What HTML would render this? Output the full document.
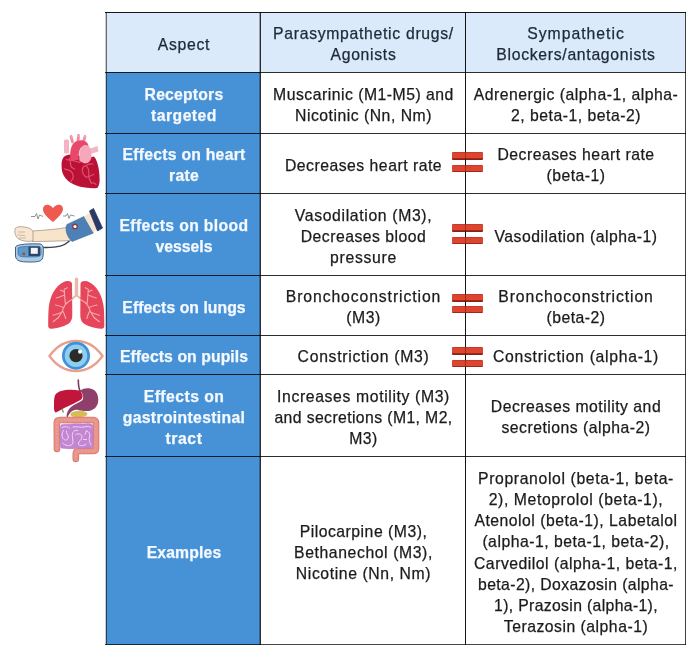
<!DOCTYPE html>
<html><head><meta charset="utf-8">
<style>
html,body{margin:0;padding:0;background:#fff;}
body{width:696px;height:658px;position:relative;overflow:hidden;font-family:"Liberation Sans",sans-serif;}
.c{will-change:transform;position:absolute;display:flex;align-items:center;justify-content:center;text-align:center;font-size:15.75px;line-height:21px;letter-spacing:0.5px;padding-top:4px;padding-left:2px;white-space:nowrap;color:#1b1b1b;-webkit-text-stroke:0.25px currentColor;box-sizing:border-box;}
.h{background:#dbeafb;color:#1e2935;letter-spacing:0.7px;}
.l{background:#4792d6;color:#f4f8ff;font-weight:bold;letter-spacing:0.15px;}
.hl{position:absolute;height:1px;background:rgba(0,0,0,.82);left:105px;width:581px;}
.vl{position:absolute;width:1px;background:rgba(0,0,0,.82);top:12px;height:633px;}
.eq{position:absolute;left:452px;width:31px;height:8px;background:linear-gradient(#b9372a 0px,#dc4430 1.5px,#df4631 5.5px,#a0281a 6.5px,#7e1d12 8px);border-radius:1px;}
.eqv{position:absolute;left:465px;width:1px;background:rgba(0,0,0,.3);}
</style></head><body>
<!-- column 1 (left labels) -->
<div class="c h" style="left:106px;top:12px;width:154px;height:60px;"><div>Aspect</div></div>
<div class="c l" style="left:106px;top:72px;width:154px;height:61px;"><div><span style="letter-spacing:0.2px">Receptors</span><br><span style="letter-spacing:0.45px">targeted</span></div></div>
<div class="c l" style="left:106px;top:133px;width:154px;height:60px;"><div><span style="letter-spacing:0.25px">Effects on heart</span><br><span style="letter-spacing:0.3px">rate</span></div></div>
<div class="c l" style="left:106px;top:193px;width:154px;height:82px;"><div><span style="letter-spacing:0.35px">Effects on blood</span><br><span style="letter-spacing:0px">vessels</span></div></div>
<div class="c l" style="left:106px;top:275px;width:154px;height:60px;"><div><span style="letter-spacing:0.05px">Effects on lungs</span></div></div>
<div class="c l" style="left:106px;top:335px;width:154px;height:39px;"><div><span style="letter-spacing:0.08px">Effects on pupils</span></div></div>
<div class="c l" style="left:106px;top:374px;width:154px;height:82px;"><div><span style="letter-spacing:0.45px">Effects on</span><br><span style="letter-spacing:0.33px">gastrointestinal</span><br><span style="letter-spacing:0.6px">tract</span></div></div>
<div class="c l" style="left:106px;top:456px;width:154px;height:189px;"><div>Examples</div></div>
<!-- column 2 -->
<div class="c h" style="left:260px;top:12px;width:205px;height:60px;"><div>Parasympathetic drugs/<br>Agonists</div></div>
<div class="c" style="left:260px;top:72px;width:205px;height:61px;"><div>Muscarinic (M1-M5) and<br>Nicotinic (Nn, Nm)</div></div>
<div class="c" style="left:260px;top:133px;width:205px;height:60px;"><div>Decreases heart rate</div></div>
<div class="c" style="left:260px;top:193px;width:205px;height:82px;"><div><span style="letter-spacing:0.65px">Vasodilation (M3),</span><br>Decreases blood<br><span style="letter-spacing:0.7px">pressure</span></div></div>
<div class="c" style="left:260px;top:275px;width:205px;height:60px;"><div><span style="letter-spacing:0.9px">Bronchoconstriction</span><br>(M3)</div></div>
<div class="c" style="left:260px;top:335px;width:205px;height:39px;"><div><span style="letter-spacing:0.7px">Constriction (M3)</span></div></div>
<div class="c" style="left:260px;top:374px;width:205px;height:82px;"><div><span style="letter-spacing:0.63px">Increases motility (M3)</span><br><span style="letter-spacing:0.4px">and secretions (M1, M2,</span><br>M3)</div></div>
<div class="c" style="left:260px;top:456px;width:205px;height:188px;"><div>Pilocarpine (M3),<br><span style="letter-spacing:0.6px">Bethanechol (M3),</span><br><span style="letter-spacing:0.6px">Nicotine (Nn, Nm)</span></div></div>
<!-- column 3 -->
<div class="c h" style="left:465px;top:12px;width:220px;height:60px;"><div><span style="letter-spacing:1px">Sympathetic</span><br>Blockers/antagonists</div></div>
<div class="c" style="left:465px;top:72px;width:220px;height:61px;"><div>Adrenergic (alpha-1, alpha-<br>2, beta-1, beta-2)</div></div>
<div class="c" style="left:465px;top:133px;width:220px;height:60px;"><div>Decreases heart rate<br>(beta-1)</div></div>
<div class="c" style="left:465px;top:193px;width:220px;height:82px;"><div><span style="letter-spacing:0.5px">Vasodilation (alpha-1)</span></div></div>
<div class="c" style="left:465px;top:275px;width:220px;height:60px;"><div><span style="letter-spacing:0.9px">Bronchoconstriction</span><br>(beta-2)</div></div>
<div class="c" style="left:465px;top:335px;width:220px;height:39px;"><div><span style="letter-spacing:0.7px">Constriction (alpha-1)</span></div></div>
<div class="c" style="left:465px;top:374px;width:220px;height:82px;"><div>Decreases motility and<br>secretions (alpha-2)</div></div>
<div class="c" style="left:465px;top:456px;width:220px;height:188px;line-height:21.25px;padding-top:5px;"><div><span style="letter-spacing:0.63px">Propranolol (beta-1, beta-</span><br><span style="letter-spacing:0.6px">2), Metoprolol (beta-1),</span><br>Atenolol (beta-1), Labetalol<br>(alpha-1, beta-1, beta-2),<br>Carvedilol (alpha-1, beta-1,<br><span style="letter-spacing:0.4px">beta-2), Doxazosin (alpha-</span><br><span style="letter-spacing:0.35px">1), Prazosin (alpha-1),</span><br>Terazosin (alpha-1)</div></div>
<!-- grid lines -->
<div class="hl" style="top:12px;background:rgba(0,0,0,.9)"></div>
<div class="hl" style="top:72px"></div>
<div class="hl" style="top:133px"></div>
<div class="hl" style="top:193px"></div>
<div class="hl" style="top:275px"></div>
<div class="hl" style="top:335px"></div>
<div class="hl" style="top:374px"></div>
<div class="hl" style="top:456px"></div>
<div class="hl" style="top:644px;background:rgba(0,0,0,.72)"></div>
<div class="vl" style="left:105px;background:rgba(0,0,0,.2)"></div>
<div class="vl" style="left:106px;background:rgba(0,0,0,.55)"></div>
<div class="vl" style="left:259px;background:rgba(0,0,0,.3)"></div>
<div class="vl" style="left:260px"></div>
<div class="vl" style="left:465px;background:rgba(0,0,0,.92)"></div>
<div class="vl" style="left:685px;background:rgba(0,0,0,.75)"></div>
<!-- ICONS -->
<svg style="position:absolute;left:0;top:0" width="696" height="658" viewBox="0 0 696 658">
<!-- HEART -->
<g>
<rect x="64" y="139.5" width="5" height="14" rx="1.5" fill="#f4b3c2"/>
<path d="M72.5,142 L71,136.5 M78,141 L78.5,135.5 M83.5,142 L85,136.5" stroke="#f0899f" stroke-width="2.8" stroke-linecap="round"/>
<path d="M71,137 L73,137 M77.5,136 L79.5,136 M84,137 L86,137" stroke="#f6b8c6" stroke-width="1" stroke-linecap="round"/>
<path d="M63.7,157 C61.5,160 61.5,163 61.6,166 C61.6,170 62.3,173 63.7,175.5 C66,179.5 70,183 74,184.5 C78,186.3 82.5,187.3 86.7,187.8 C90.5,188.2 94.5,188.5 97.6,187.7 C99.3,185 99.8,182 99.6,178.7 C99.5,173 98.8,168 97.6,164 C96.8,160.5 95.5,158 93.8,156.4 L88,158 L80,156 L70.8,154.5 C67.5,154.8 65.3,155.5 63.7,157 Z" fill="#ba1236"/>
<path d="M70.5,160 C69.5,151 71,143 77,141 C83,139 88,141.5 88.5,146 L83,147 C80,147 78.5,151 78.5,160 Z" fill="#e8496a"/>
<path d="M89,149 L97.5,146 L98.5,151.5 L90,154 Z" fill="#f6b4c4"/>
<path d="M79.5,161 C78.5,152 80,146 85,145 C90,144.5 91.5,150 91.5,156 C91.5,160 89,163.5 84.5,163.5 Z" fill="#f5a7bb"/>
<path d="M66.3,159.6 C72,160 76,161 80,162.5 M69.5,158.3 C70.5,161 70.5,164 70.8,166 C71.5,168 73.5,168.5 74.6,169 M64.4,169 C66.5,169.5 69,170 70.8,171 C72.5,172.5 73,175 73.3,176.8 C73,179 71.5,180.5 70.8,182 M82.3,171 C82,167.5 84,165.5 86,166 C88.5,167 89.5,172 88.6,176.8 C86.5,178 83,176 82.3,171 Z M88.6,176.8 C89.5,179 90.5,181 91.2,183.2 M88.6,176.8 C90.5,176 92,175.3 93.8,174.3 M91.2,183.2 C93,182.5 95,183 96,184.5 M86,166 C87.5,164 90,163.5 93,164" stroke="#e2506c" stroke-width="1.2" fill="none" stroke-linecap="round"/>
</g>
<!-- BLOOD PRESSURE -->
<g>
<path d="M53,222 C47,217 42.5,213 43,208.5 C43.5,204.5 48,203.5 51.5,206.5 L53,208 L54.5,206.5 C58,203.5 63,204.5 63,209 C63,213 58.5,217 53,222 Z" fill="#ef5a50"/>
<path d="M31,216.5 L35,216.5 L36.5,213.5 L38,219 L39.5,215 L43,216.5 M63,216 L66,216 L67.5,213.5 L69,218.5 L70.5,215 L74.5,216" stroke="#7a7a7a" stroke-width="0.8" fill="none"/>
<path d="M33,231 C45,230 58,229.5 69,227 L73,240.5 C60,241 45,241.5 32,241.5 Z" fill="#f8e3cb"/>
<path d="M33,231 C45,230 58,229.5 69,227 M73,240.5 C60,241 45,241.5 32,241.5" stroke="#8a7a6a" stroke-width="0.6" fill="none"/>
<path d="M15.5,228 C18,226 25,226.5 30,228.5 L33,231 L33,241 C28,242 22,241 18.5,239 C15,236 14,231 15.5,228 Z" fill="#f8e6d0" stroke="#9a8a7a" stroke-width="0.7"/>
<path d="M18,232 L25,232 M17.5,235 L25,235.5 M19,238 L26,238" stroke="#9a8a7a" stroke-width="0.5"/>
<path d="M69.5,241 C64,246 58,247.5 46,247.5 L42,247.5" stroke="#3b4250" stroke-width="1.4" fill="none"/>
<path d="M67,224.5 L84,216.5 L93.5,233 L72,241.5 C69,239 67,235 66.2,231 C65.8,228 66,226 67,224.5 Z" fill="#4d80b6" stroke="#3a6898" stroke-width="0.6"/>
<path d="M84,216.5 L90.5,212 L96.5,229 L93.5,233 Z" fill="#f8e5cf"/>
<path d="M89.5,211 L93.5,208.5 L102.5,228 L97.5,231 Z" fill="#2a3a68" stroke="#2a3a68" stroke-width="0.8" stroke-linejoin="round"/>
<circle cx="75" cy="226.5" r="2.9" fill="#8a3a48"/>
<circle cx="75" cy="226.5" r="1.6" fill="#fff"/>
<path d="M15.5,247 C17,244 30,243.5 40,244 C43,244.5 44,247 43,256 C42.5,261 40,262 30,262 C20,262 16,261 15.5,256 Z" fill="#a9cbe5" stroke="#3f5f80" stroke-width="1"/>
<path d="M18,248 C19,246.5 28,246 39,246.5 C41,247 41.5,249 41,254 C40.5,256.5 39,257 30,257 C21,257 18.5,256.5 18,254 Z" fill="#5c9bcc" stroke="#3d5f86" stroke-width="0.6"/>
<rect x="28.5" y="246.5" width="11.5" height="9.5" rx="0.8" fill="#2c4468"/>
<rect x="30.8" y="247.8" width="7" height="6" fill="#f2f5f8"/>
<rect x="22.5" y="252.5" width="2.6" height="2.6" fill="#a8473a"/>
</g>
<!-- LUNGS -->
<g>
<rect x="74.8" y="277.5" width="3.4" height="19" rx="1.5" fill="#e9b8a8"/>
<path d="M76.5,295 L72,299 M76.5,295 L81,299" stroke="#e9b8a8" stroke-width="2"/>
<path d="M67.6,281 C70.5,281 72,282 72,284 L72.3,313.5 C72.5,318 71.5,321 69.5,323 C66,326 58,328 51.5,328.8 C49,329 48,327.5 48.2,325 C48.2,318 48.3,312 48.8,307 C50,298 53,291 58,286 C61,283 64.5,281 67.6,281 Z" fill="#e6465c"/>
<path d="M85,281 C82,281 80.5,282 80.5,284 L80.3,313.5 C80.1,318 81,321 83,323 C86.5,326 94.5,328 101,328.8 C103.5,329 104.5,327.5 104.3,325 C104.3,318 104.2,312 103.7,307 C102.5,298 99.5,291 94.5,286 C91.5,283 88,281 85,281 Z" fill="#e6465c"/>
<path d="M72,299.5 C69,301 66.5,303 65,305 C63.5,308 62.5,310 61.8,312.2 C60.5,314.5 59,316.5 57.8,318.5 M65.5,304.5 C64.8,299 64.5,294 64.2,289.3 L67.3,287.7 M64.5,295 C61,296.5 58.5,297.5 56.3,298 M63.5,307.5 C60.5,306 58,305.5 55.5,305 M61.8,312.2 C58.5,313.5 55.5,314.5 53.1,315.3 M58.5,317.5 C56.5,319 54.8,320.5 53.1,321.7 M62.5,310.5 C64,313 65,316 65.7,318.5 M64.3,292 L60.5,290" stroke="#f5a8ac" stroke-width="1.15" fill="none" stroke-linecap="round"/>
<path d="M80.5,299.5 C83.5,301 86.0,303 87.5,305 C89.0,308 90.0,310 90.7,312.2 C92.0,314.5 93.5,316.5 94.7,318.5 M87.0,304.5 C87.7,299 88.0,294 88.3,289.3 L85.2,287.7 M88.0,295 C91.5,296.5 94.0,297.5 96.2,298 M89.0,307.5 C92.0,306 94.5,305.5 97.0,305 M90.7,312.2 C94.0,313.5 97.0,314.5 99.4,315.3 M94.0,317.5 C96.0,319 97.7,320.5 99.4,321.7 M90.0,310.5 C88.5,313 87.5,316 86.8,318.5 M88.2,292 L92.0,290" stroke="#f5a8ac" stroke-width="1.15" fill="none" stroke-linecap="round"/>
</g>
<!-- EYE -->
<g>
<path d="M49.5,356 C58,344 67,341 76,341 C85,341 94,344 102.5,356 C94,368 85,371 76,371 C67,371 58,368 49.5,356 Z" fill="#fff" stroke="#e8a090" stroke-width="2.3"/>
<circle cx="76" cy="355.7" r="14" fill="#3f90d6"/>
<circle cx="76" cy="355.7" r="11.3" fill="#8ccff0"/>
<circle cx="76" cy="355.7" r="6.6" fill="#2d2b2a"/>
<circle cx="80" cy="351.8" r="2" fill="#fff"/>
</g>
<!-- GI TRACT -->
<g>
<path d="M78.3,380 C78.3,385 78.8,389 80.5,392" stroke="#7d3a62" stroke-width="1.6" fill="none" stroke-linecap="round"/>
<path d="M54.5,397 C55.5,393 59,391 65.5,390 C70,389.5 75,389.5 79,390.5 C81,391.5 82.5,394 82.6,396 C82.5,398 81.5,399.5 79.5,400.5 C76,402.5 72,404.5 67.5,406.5 C63,408.5 59,411 55.8,412.5 C54.2,412 53.8,409 54,405 C54,402 54,399.5 54.5,397 Z" fill="#c0163c"/>
<path d="M62,409 L63.5,412.5" stroke="#7a9a4a" stroke-width="1.3"/>
<path d="M80.5,390.5 C84,387.5 90,387.5 94,390 C97.5,392.5 98.5,397 98.2,401 C97.8,406 95,409 91,410.5 C87,411.5 82,411 78,410 C75,409.5 72.5,410.5 70.5,412.5 C69,414 68,416 67.8,417.5 L66.5,416.5 C66.5,413 68,409.5 71,407 C74.5,404 79,402.5 82,400.5 C83.5,399 83.5,396 82.5,394 C81.8,392.8 81,391.5 80.5,390.5 Z" fill="#8e3f6c"/>
<path d="M70.5,413.5 C73,410.8 79,410.3 84,411.3 C86.5,412 88,413.5 87.2,415 C85,417.3 78,417.5 73,416.8 C71,416.4 70,415 70.5,413.5 Z" fill="#d7be52"/>
<path d="M57,449 L56.8,423 C56.8,421 58,420 60,420 L93,420 C95,420 96,421 96,423.5 L96,448.5 C96,450.5 95,451 93,451 L79,451 C77,451 75.8,452 75.8,454 L75.8,459" stroke="#d9736a" stroke-width="6.6" fill="none" stroke-linecap="round" stroke-linejoin="round"/>
<path d="M57,449 L56.8,423 C56.8,421 58,420 60,420 L93,420 C95,420 96,421 96,423.5 L96,448.5 C96,450.5 95,451 93,451 L79,451 C77,451 75.8,452 75.8,454 L75.8,459" stroke="#e8948a" stroke-width="5" fill="none" stroke-linecap="round" stroke-linejoin="round"/>
<path d="M57,449 L56.8,423 C56.8,421 58,420 60,420 L93,420 C95,420 96,421 96,423.5 L96,448.5 C96,450.5 95,451 93,451 L79,451 C77,451 75.8,452 75.8,454 L75.8,459" stroke="#f2b0a6" stroke-width="0.8" stroke-dasharray="1.5 2" fill="none"/>
<path d="M61,425 C64,423.5 68,424.5 72,424 C77,423.5 82,424.5 87,423.8 C89.5,423.6 91.5,424 92.5,425 C93.3,432 93.3,440 92.5,447.5 C89,448.5 85,448 81,448.3 C78.5,448.5 77,447 75,448.5 C72,449 67,448.5 61,448 C59.5,440 59.5,432 61,425 Z" fill="#c386d3" stroke="#b474c6" stroke-width="0.6"/>
<path d="M62,427.5 C65,426 68,426.5 70,428.5 M63.5,430.5 C61.5,433.5 61.5,437 63.5,439 C65.5,441 68.3,440 68.3,437 C68.3,434 65.5,433 66.5,431 M62.5,443 C65,445.5 69.5,446.5 72,444.5 C74,442 72.3,438.5 72.3,435.5 C72.3,431.5 75,429.5 78,430.5 M75.8,434.5 C79,433 82,434 82,437 C82,440 78.3,441 78.3,444 C79,446 83.5,446.3 86,444.3 M73,427 C77,426 80.5,428 84,427 C87,426 89.5,426.5 91,427.5 M86,431 C89,431 90.5,434 89.5,437 C88.5,440 90,442.5 91,445 M83.5,439.5 L86.5,439.5 M85,434.5 L86.5,431" stroke="#f1d4f4" stroke-width="1" fill="none" stroke-linecap="round"/>
</g>
</svg>

<!-- equals signs -->
<div class="eq" style="top:152px"></div><div class="eq" style="top:164.5px;height:7.5px"></div><div class="eqv" style="top:152px;height:20.0px"></div>
<div class="eq" style="top:224px"></div><div class="eq" style="top:236.5px;height:7.5px"></div><div class="eqv" style="top:224px;height:20.0px"></div>
<div class="eq" style="top:293.5px"></div><div class="eq" style="top:305.5px;height:7.5px"></div><div class="eqv" style="top:293.5px;height:19.5px"></div>
<div class="eq" style="top:347px"></div><div class="eq" style="top:359.5px;height:7.5px"></div><div class="eqv" style="top:347px;height:20.0px"></div>
</body></html>
